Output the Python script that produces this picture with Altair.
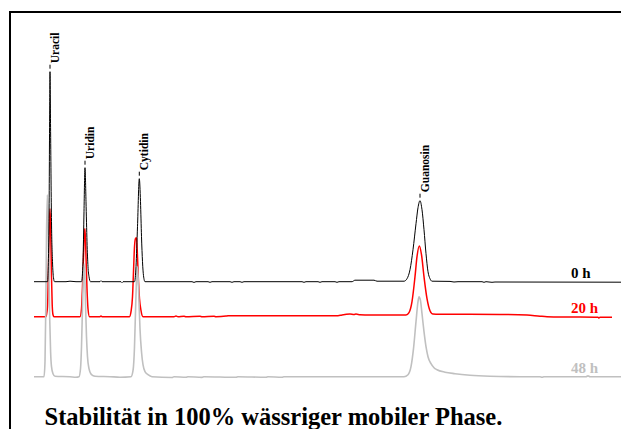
import altair as alt
import pandas as pd

# ---- chromatogram data: retention time (min) and signal (mAU above each trace's baseline)
t_0h = [1.2, 1.875, 1.95, 1.98, 2.0, 2.03, 2.075, 2.125, 2.175, 2.225, 2.8, 3.0, 3.3,
        3.575, 3.65, 3.7, 3.75, 3.8, 3.85, 3.9, 3.95, 4.025, 4.5, 4.55, 4.6, 5.55, 5.6, 5.65,
        6.225, 6.3, 6.375, 6.465, 6.525, 6.575, 6.625, 6.675, 6.75,
        9.1, 9.2, 9.3, 9.9, 10.0, 10.1, 11.0, 11.1, 11.2, 11.5, 11.6, 11.7,
        14.6, 14.7, 14.8, 15.4, 15.5, 15.6, 16.25, 16.35, 16.45,
        17.1, 17.25, 18.2, 18.35, 19.2,
        19.7, 19.85, 20.0, 20.15, 20.3, 20.4, 20.5, 20.6, 20.7, 20.8, 20.9, 21.0, 21.1,
        22.0, 22.2, 22.4, 23.6, 23.7, 23.8, 24.1, 24.25, 30.9]
s_0h = [0, 0, 60, 160, 210, 150, 60, 20, 4, 0, 0, 0.5, 0,
        0, 20, 70, 114, 80, 40, 15, 5, 0, 0, 1, 0, 0, -1, 0,
        0, 15, 55, 103, 80, 45, 20, 6, 0,
        0, -0.7, 0, 0, -0.6, 0, 0, -0.6, 0, 0, -0.6, 0,
        0, -0.6, 0, 0, -0.6, 0, 0, -0.6, 0,
        0, 1.5, 1.5, 0.5, 0.5,
        0.5, 3, 12, 32, 58, 74, 81, 72, 52, 28, 10, 3, 0.5,
        0.3, -0.3, 0, 0, -0.6, 0, -0.6, -0.3, -0.5]

t_20h = [1.2, 1.8, 1.875, 1.925, 1.975, 2.0, 2.04, 2.075, 2.11, 2.15, 2.2,
         3.5, 3.575, 3.625, 3.675, 3.725, 3.75, 3.8, 3.85, 3.9, 3.975, 4.5, 4.55, 4.6,
         5.975, 6.05, 6.125, 6.175, 6.225, 6.275, 6.325, 6.375, 6.425, 6.475, 6.55, 6.65,
         8.2, 8.3, 8.4, 8.7, 8.8, 9.5, 9.6, 10.2, 10.3, 10.8, 10.9, 16.4, 16.6, 17.0, 17.2, 17.3,
         17.5, 18.0, 19.5,
         19.8, 19.95, 20.1, 20.25, 20.35, 20.465, 20.575, 20.7, 20.85, 21.0, 21.15, 21.3,
         22.0, 24.5, 25.85, 26.5, 26.85, 28.0, 29.4, 29.45, 29.5, 30.1]
s_20h = [0, 0, 10, 50, 95, 108, 80, 40, 12, 2, 0,
         0, 8, 30, 60, 85, 88, 60, 28, 8, 0, 0, 0.8, 0,
         0, 5, 20, 45, 70, 78, 79, 60, 35, 18, 6, 0,
         0, 0.6, 0, 0.5, 0, 0.5, 0, 0.5, 0, 0.6, 1, 1, 1.8, 2.6, 2.2, 2.6,
         2, 1.6, 1.6,
         1.6, 4, 15, 40, 60, 70.7, 62, 40, 18, 6, 2.6, 2.5,
         2.5, 2.3, 1.7, 0.5, 0, -0.3, -0.6, -1.3, -0.5, -0.6]

t_48h = [1.2, 1.7, 1.75, 1.79, 1.825, 1.865, 1.91, 1.95, 1.99, 2.03, 2.075, 2.15, 2.25,
         3.0, 3.3, 3.45, 3.525, 3.575, 3.625, 3.665, 3.7, 3.74, 3.78, 3.825, 3.875, 3.95, 4.075, 4.25,
         5.0, 5.5, 6.05, 6.15, 6.225, 6.275, 6.325, 6.365, 6.41, 6.45, 6.5, 6.575, 6.65, 6.75, 6.9, 7.1,
         8.1, 8.2, 8.8, 8.9, 9.6, 9.7, 11.3, 11.4, 12.8, 12.9, 13.6, 13.7, 19.5,
         19.7, 19.9, 20.05, 20.175, 20.3, 20.4, 20.45, 20.525, 20.6, 20.7, 20.8, 20.9, 21.05,
         21.2, 21.35, 21.75, 22.25, 23.0, 24.0, 25.5,
         26.5, 26.6, 26.7, 28.8, 28.9, 29.0, 30.75]
s_48h = [0, 0, 15, 70, 140, 182, 150, 100, 55, 25, 10, 3, 0.5,
         0, -0.5, 0, 8, 30, 70, 100, 113, 100, 70, 40, 20, 8, 2, 0.5,
         0, -0.5, 0, 6, 30, 65, 98, 110, 98, 75, 48, 25, 12, 5, 2, 0,
         -0.8, 0, -0.6, 0, -0.7, 0, -0.6, 0, -0.6, 0, -0.5, 0, 0,
         0, 2, 10, 28, 55, 75, 80, 76, 63, 45, 30, 20, 13,
         9, 7, 4.5, 3, 1.5, 0.5, 0,
         0, -0.6, 0, 0, 0.8, 0, 0]

# peak names, retention times and heights (0 h trace)
peak_names = ["Uracil", "Uridin", "Cytidin", "Guanosin"]
peak_times = [2.0, 3.75, 6.465, 20.5]
peak_heights = [210, 114, 103, 81]

series_names = ["0 h", "20 h", "48 h"]
series_offsets = [147.3, 112.3, 52.3]   # vertical stacking of the traces
series_colors = ["#000000", "#ff0000", "#c0c0c0"]
series_widths = [1.0, 1.5, 1.6]

TITLE = "Stabilität in 100% wässriger mobiler Phase."
FONT = "Liberation Serif"
W, H = 611, 417
LABEL_T = 28.05

traces = {"0 h": (t_0h, s_0h), "20 h": (t_20h, s_20h), "48 h": (t_48h, s_48h)}
offs = dict(zip(series_names, series_offsets))

xs = alt.Scale(domain=[0, W / 20], nice=False, zero=False)
ys = alt.Scale(domain=[0, H], nice=False, zero=False)


def line_layer(name, color, width):
    t, s = traces[name]
    df = pd.DataFrame({"t": t, "y": [v + offs[name] for v in s], "i": range(len(t))})
    return alt.Chart(df).mark_line(color=color, strokeWidth=width, interpolate="monotone").encode(
        x=alt.X("t:Q", scale=xs, axis=None),
        y=alt.Y("y:Q", scale=ys, axis=None),
        order="i:Q",
    )


styles = {n: (c, w) for n, c, w in zip(series_names, series_colors, series_widths)}
lines = [line_layer(n, *styles[n]) for n in ["20 h", "48 h", "0 h"]]

peaks = pd.DataFrame({
    "name": peak_names,
    "t": peak_times,
    "y": [h + offs["0 h"] for h in peak_heights],
})
peaks["d1"] = peaks["y"] + 3
peaks["d2"] = peaks["y"] + 7

peak_text = alt.Chart(peaks).mark_text(
    angle=270, align="left", baseline="top", dx=8.5,
    font=FONT, fontWeight="bold", fontSize=11.5, color="black",
).encode(x=alt.X("t:Q", scale=xs), y=alt.Y("y:Q", scale=ys), text="name:N")

peak_tick = alt.Chart(peaks).mark_rule(color="black", strokeWidth=1).encode(
    x=alt.X("t:Q", scale=xs), y=alt.Y("d1:Q", scale=ys), y2="d2:Q"
)

ends = pd.DataFrame({"name": series_names, "y": series_offsets, "t": [LABEL_T] * 3})
end_text = alt.Chart(ends).mark_text(
    align="left", baseline="alphabetic", dy=-3.5,
    font=FONT, fontWeight="bold", fontSize=15,
).encode(
    x=alt.X("t:Q", scale=xs), y=alt.Y("y:Q", scale=ys), text="name:N",
    color=alt.Color("name:N", scale=alt.Scale(domain=series_names, range=series_colors), legend=None),
)

frame_src = pd.DataFrame({"k": [0]})
frame_left = alt.Chart(frame_src).mark_rule(color="black", strokeWidth=2, strokeCap="square").encode(
    x=alt.value(0), y=alt.value(0), y2=alt.value(H))
frame_top = alt.Chart(frame_src).mark_rule(color="black", strokeWidth=2, strokeCap="square").encode(
    x=alt.value(0), x2=alt.value(W), y=alt.value(0))

chart = alt.layer(
    *lines, peak_tick, peak_text, end_text, frame_left, frame_top
).properties(
    width=W, height=H,
    padding={"left": 2, "top": 4, "right": 0, "bottom": 0},
    autosize=alt.AutoSizeParams(type="none"),
    background="white",
    title=alt.TitleParams(
        TITLE, orient="bottom", anchor="start", dx=36, offset=-5, baseline="alphabetic",
        font=FONT, fontWeight="bold", fontSize=24.5, color="black",
    ),
).configure_view(stroke=None)

chart.save("out.html", embed_options={"renderer": "svg", "actions": False})
